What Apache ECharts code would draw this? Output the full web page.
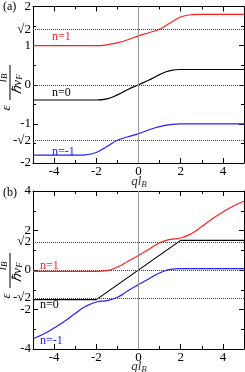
<!DOCTYPE html>
<html><head><meta charset="utf-8">
<script src="https://cdn.jsdelivr.net/npm/echarts@6/dist/echarts.min.js"></script>
<style>html,body{margin:0;padding:0;background:#fff}#c{width:245px;height:372px}</style>
</head><body><div id="c"></div>
<script>
var SQ2 = Math.SQRT2;
var xs = [-5,-4.5,-4,-3.5,-3,-2.5,-2,-1.5,-1,-0.5,0,0.5,1,1.5,2,2.5,3,3.5,4,4.5,5];
// panel (a)
var aN1  = [1,1,1,1,1,1,1.0,1.02,1.07,1.15,1.25,1.33,1.42,1.58,1.73,1.79,1.8,1.8,1.8,1.8,1.8];
var aN0  = [-0.39,-0.39,-0.39,-0.39,-0.39,-0.39,-0.39,-0.36,-0.26,-0.12,0,0.12,0.26,0.36,0.39,0.39,0.39,0.39,0.39,0.39,0.39];
var aNm1 = [-1.8,-1.8,-1.8,-1.8,-1.8,-1.79,-1.73,-1.58,-1.42,-1.33,-1.25,-1.15,-1.07,-1.02,-1,-1,-1,-1,-1,-1,-1];
// panel (b)
var bN1  = [-0.07,-0.07,-0.07,-0.07,-0.07,-0.07,-0.07,-0.03,0.15,0.44,0.74,1.05,1.38,1.55,1.62,1.84,2.2,2.6,2.94,3.24,3.48];
var bN0x = [-5,-2,2,5];
var bN0  = [-1.5,-1.5,1.5,1.5];
var bNm1 = [-3.48,-3.24,-2.94,-2.6,-2.2,-1.84,-1.62,-1.55,-1.38,-1.05,-0.74,-0.44,-0.15,0.03,0.07,0.07,0.07,0.07,0.07,0.07,0.07];
var xMajor = [-4,-2,0,2,4];
var xMinor = [-3,-1,1,3];
var aYLabels = [-2,-SQ2,-1,0,1,SQ2,2];
var bYLabels = [-4,-2,-SQ2,0,SQ2,2,4];

function pairs(x, y){ return x.map(function(v,i){return [v,y[i]];}); }
var FONT = 'Liberation Serif';
function fmtY(v){
  if (Math.abs(Math.abs(v)-SQ2) < 1e-6) return (v<0?'-':'')+'\u221A2';
  return String(Math.round(v));
}
function xAxes(grid){
  var base = {gridIndex:grid, type:'value', min:-5, max:5, splitLine:{show:false}};
  return [
    Object.assign({}, base, {position:'bottom',
      axisLine:{show:true,onZero:false,lineStyle:{color:'#000',width:1}},
      axisTick:{show:true,inside:true,length:5,customValues:xMajor,lineStyle:{color:'#000'}},
      axisLabel:{show:true,customValues:xMajor,margin:2,color:'#000',fontFamily:FONT,fontSize:13,formatter:function(v){return String(v);}}}),
    Object.assign({}, base, {position:'bottom',
      axisLine:{show:false,onZero:false},
      axisTick:{show:true,inside:true,length:3,customValues:xMinor,lineStyle:{color:'#000'}},
      axisLabel:{show:false}}),
    Object.assign({}, base, {position:'top',
      axisLine:{show:true,onZero:false,lineStyle:{color:'#000',width:1}},
      axisTick:{show:true,inside:true,length:5,customValues:xMajor,lineStyle:{color:'#000'}},
      axisLabel:{show:false}}),
    Object.assign({}, base, {position:'top',
      axisLine:{show:false,onZero:false},
      axisTick:{show:true,inside:true,length:3,customValues:xMinor,lineStyle:{color:'#000'}},
      axisLabel:{show:false}})
  ];
}
function yAxes(grid, mn, mx, iv, labels){
  var base = {gridIndex:grid, type:'value', min:mn, max:mx, interval:iv, splitLine:{show:false},
    minorTick:{show:true,splitNumber:2,length:3,lineStyle:{color:'#000'}}};
  return [
    Object.assign({}, base, {position:'left',
      axisLine:{show:true,onZero:false,lineStyle:{color:'#000',width:1}},
      axisTick:{show:true,inside:true,length:5,lineStyle:{color:'#000'}},
      axisLabel:{show:true,customValues:labels,margin:2,color:'#000',fontFamily:FONT,fontSize:13,formatter:fmtY}}),
    Object.assign({}, base, {position:'right',
      axisLine:{show:true,onZero:false,lineStyle:{color:'#000',width:1}},
      axisTick:{show:true,inside:true,length:5,lineStyle:{color:'#000'}},
      axisLabel:{show:false}})
  ];
}
function curve(xi, yi, data, color, smooth){
  return {type:'line', xAxisIndex:xi, yAxisIndex:yi, data:data, showSymbol:false, symbol:'none',
    smooth:smooth, lineStyle:{color:color,width:1.2}, z:3, silent:true};
}
function refLines(xi, yi){
  return {type:'line', xAxisIndex:xi, yAxisIndex:yi, data:[], silent:true, z:1,
    markLine:{silent:true, symbol:'none', label:{show:false}, animation:false,
      data:[
        {yAxis:SQ2, lineStyle:{type:'dotted',color:'#444',width:1}},
        {yAxis:0, lineStyle:{type:'dotted',color:'#444',width:1}},
        {yAxis:-SQ2, lineStyle:{type:'dotted',color:'#444',width:1}},
        {xAxis:0, lineStyle:{type:'solid',color:'#999',width:1}}
      ]}};
}
function yTitle(x, y){
  return {type:'group', x:x, y:y, rotation:Math.PI/2, children:[
    {type:'text', x:0, y:-3, style:{text:'\u03B5', font:'italic 13px '+FONT, fill:'#000', align:'center', verticalAlign:'middle'}},
    {type:'line', shape:{x1:8,y1:0,x2:43,y2:0}, style:{stroke:'#000',lineWidth:1}},
    {type:'text', x:30, y:-1, style:{text:'{i|l}{s|B}', align:'center', verticalAlign:'bottom',
      rich:{i:{font:'italic 13px '+FONT, fill:'#000'}, s:{font:'italic 9px '+FONT, fill:'#000', padding:[4,0,0,0]}}}},
    {type:'text', x:24, y:1, style:{text:'{n|\u210F}{i|v}{s|F}', align:'center', verticalAlign:'top',
      rich:{n:{font:'italic 13px '+FONT, fill:'#000'}, i:{font:'italic 13px '+FONT, fill:'#000'}, s:{font:'italic 9px '+FONT, fill:'#000', padding:[4,0,0,0]}}}}
  ]};
}
function xTitle(x, y){
  return {type:'text', x:x, y:y, style:{text:'{i|ql}{s|B}', align:'center', verticalAlign:'middle',
    rich:{i:{font:'italic 13px '+FONT, fill:'#333'}, s:{font:'italic 9px '+FONT, fill:'#333', padding:[5,0,0,0]}}}};
}
function lbl(x, y, t, c){
  return {type:'text', x:x, y:y, style:{text:t, font:'12px '+FONT, fill:c, verticalAlign:'middle'}};
}

var chart = echarts.init(document.getElementById('c'), null, {renderer:'canvas'});
chart.setOption({
  animation:false,
  backgroundColor:'#fff',
  grid:[{left:33, top:3, width:211, height:160}, {left:33, top:191, width:211, height:158}],
  xAxis: xAxes(0).concat(xAxes(1)),
  yAxis: yAxes(0,-2,2,1,aYLabels).concat(yAxes(1,-4,4,2,bYLabels)),
  series:[
    refLines(0,0),
    curve(0,0,pairs(xs,aN1),'#ff2020',0.5),
    curve(0,0,pairs(xs,aN0),'#000',0.5),
    curve(0,0,pairs(xs,aNm1),'#2020ff',0.5),
    refLines(4,2),
    curve(4,2,pairs(xs,bN1),'#ff2020',0.5),
    curve(4,2,pairs(bN0x,bN0),'#000',false),
    curve(4,2,pairs(xs,bNm1),'#2020ff',0.5)
  ],
  graphic:[
    {type:'text', x:3, y:7, style:{text:'(a)', font:'12px '+FONT, fill:'#000', verticalAlign:'middle'}},
    {type:'text', x:3, y:193, style:{text:'(b)', font:'12px '+FONT, fill:'#000', verticalAlign:'middle'}},
    yTitle(10,108), yTitle(10,296),
    xTitle(139,182), xTitle(139,367),
    lbl(52,37,'n=1','#ff2020'), lbl(52,93,'n=0','#000'), lbl(52,152,'n=-1','#2020ff'),
    lbl(40,266,'n=1','#ff2020'), lbl(40,305,'n=0','#000'), lbl(40,341,'n=-1','#2020ff')
  ]
});
</script></body></html>
